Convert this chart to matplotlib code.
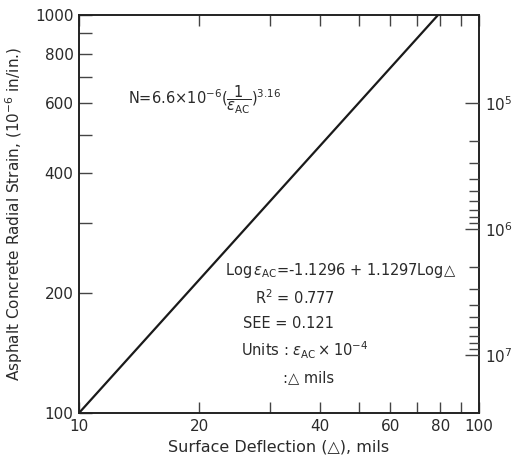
import matplotlib
matplotlib.use('Agg')
import matplotlib.pyplot as plt
from matplotlib.ticker import FixedLocator, NullFormatter

# regression line endpoints
deflection = [10, 79]          # mils
strain = [100, 1000]           # 10^-6 in/in

x_major = [10, 20, 40, 60, 80, 100]
x_minor = [30, 50, 70, 90]
y_major = [100, 200, 400, 600, 800, 1000]
y_minor = [300, 500, 700, 900]

# fatigue relation N = 6.6e-6 * (1/eps)^3.16
n_coef = 6.6e-6
n_exp = 3.16
n_major = [1e5, 1e6, 1e7]
n_major_labels = ['$10^5$', '$10^6$', '$10^7$']
n_minor = [m * d for d in (1e5, 1e6) for m in range(2, 10)]

plt.rcParams['font.family'] = ['DejaVu Sans']
plt.rcParams['mathtext.fontset'] = 'dejavusans'
txt = '#2a2a2a'

fig = plt.figure(figsize=(5.22, 4.67), dpi=100)
ax = fig.add_axes([79 / 522, 1 - 413 / 467, 400 / 522, 398 / 467])

ax.plot(deflection, strain, color='#1a1a1a', linewidth=1.6)

ax.set_xscale('log')
ax.set_yscale('log')
ax.set_xlim(10, 100)
ax.set_ylim(100, 1000)

ax.xaxis.set_major_locator(FixedLocator(x_major))
ax.xaxis.set_minor_locator(FixedLocator(x_minor))
ax.set_xticklabels([str(v) for v in x_major])
ax.xaxis.set_minor_formatter(NullFormatter())
ax.yaxis.set_major_locator(FixedLocator(y_major))
ax.yaxis.set_minor_locator(FixedLocator(y_minor))
ax.set_yticklabels([str(v) for v in y_major])
ax.yaxis.set_minor_formatter(NullFormatter())

ax.tick_params(axis='x', which='both', direction='in', top=True, length=8,
               width=1.0, color='#444444', labelsize=11, labelcolor=txt, pad=4)
ax.tick_params(axis='y', which='both', direction='in', right=False, length=9,
               width=1.0, color='#444444', labelsize=11, labelcolor=txt, pad=4)
for s in ax.spines.values():
    s.set_linewidth(1.4)
    s.set_color('#222222')

ax.set_xlabel('Surface Deflection (\u25b3), mils', fontsize=11.5, color=txt, labelpad=4)
ax.set_ylabel('Asphalt Concrete Radial Strain, ($10^{-6}$ in/in.)', fontsize=11,
              color=txt, labelpad=7)

# right axis: load repetitions
ax2 = ax.twinx()
ax2.set_yscale('log')
ax2.set_ylim(n_coef * (1 / (strain[0] * 1e-6)) ** n_exp,
             n_coef * (1 / (strain[1] * 1e-6)) ** n_exp)
ax2.yaxis.set_major_locator(FixedLocator(n_major))
ax2.yaxis.set_minor_locator(FixedLocator(n_minor))
ax2.set_yticklabels(n_major_labels, family='DejaVu Serif')
ax2.yaxis.set_minor_formatter(NullFormatter())
ax2.tick_params(axis='y', which='major', direction='in', length=10, width=1.0,
                color='#444444', labelsize=11, labelcolor=txt, pad=4)
ax2.tick_params(axis='y', which='minor', direction='in', length=7, width=1.0,
                color='#444444')
for s in ax2.spines.values():
    s.set_visible(False)

fs = 10.5
ax.text(0.1225, 0.786, r'N=6.6$\times$10$^{-6}$($\dfrac{1}{\epsilon_\mathrm{AC}}$)$^{3.16}$',
        transform=ax.transAxes, fontsize=fs, color=txt, va='center', ha='left')

ax.text(0.365, 0.357, 'Log' + r'$\,\epsilon_\mathrm{AC}$' + '=-1.1296 + 1.1297Log\u25b3',
        transform=ax.transAxes, fontsize=fs, color=txt, va='center', ha='left')
ax.text(0.44, 0.291, r'R$^2$ = 0.777', transform=ax.transAxes, fontsize=fs,
        color=txt, va='center', ha='left')
ax.text(0.41, 0.226, 'SEE = 0.121', transform=ax.transAxes, fontsize=fs,
        color=txt, va='center', ha='left')
ax.text(0.405, 0.158, r'Units : $\epsilon_\mathrm{AC}\times$10$^{-4}$', transform=ax.transAxes,
        fontsize=fs, color=txt, va='center', ha='left')
ax.text(0.51, 0.088, ':\u25b3 mils', transform=ax.transAxes, fontsize=fs,
        color=txt, va='center', ha='left')

fig.savefig('out.png', dpi=100)
